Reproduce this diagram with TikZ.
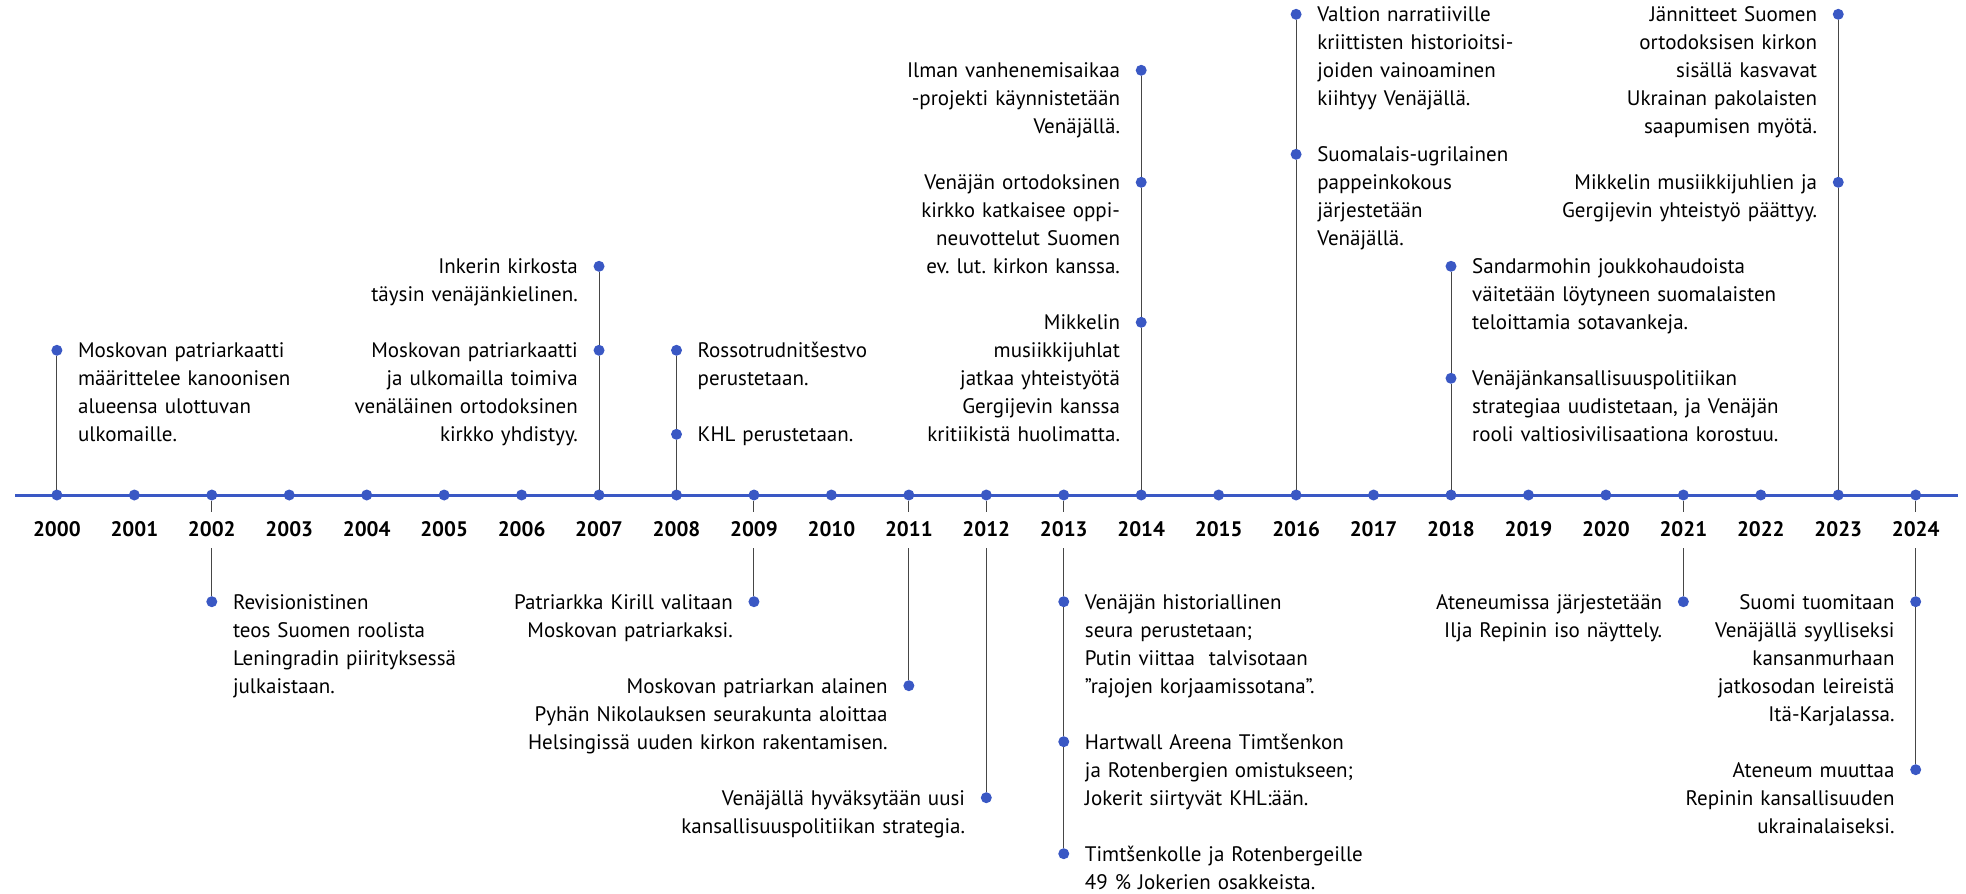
\documentclass[tikz,border=0pt]{standalone}
\usepackage{fontspec}
\setmainfont{PT Sans}
\usetikzlibrary{positioning}
\frenchspacing
\definecolor{tlblue}{RGB}{58,88,196}
\definecolor{stemgray}{RGB}{70,70,70}
\newcommand{\evfont}{\fontsize{21}{28}\selectfont}
\newcommand{\yrfont}{\fontsize{21}{21}\selectfont\bfseries}
\tikzset{%
   tdot/.style={
      circle,
      inner sep=0mm,
      outer sep=0mm,
      minimum size=11pt,
      fill=tlblue
   },
   yr/.style={
      font=\yrfont,
      fill=white,
      inner sep=0pt,
      minimum height=36pt
   },
   evl/.style={
      anchor=base west,
      text width=420pt,
      align=left,
      font=\evfont,
      inner sep=0pt,
      xshift=21pt,
      yshift=-7.3pt
   },
   evr/.style={
      anchor=base east,
      text width=420pt,
      align=right,
      font=\evfont,
      inner sep=0pt,
      xshift=-21pt,
      yshift=-7.3pt
   },
   stem/.style={
      draw=stemgray,
      line width=1pt
   },
}

\begin{document}
\begin{tikzpicture}[x=1pt, y=-1pt]
         \useasboundingbox (0,0) rectangle (1966,894);
         \coordinate (axl) at (15,495);
         \coordinate (axr) at (1958,495);
         \draw[tlblue, line width=3pt] (axl) -- (axr);
         \foreach \i in {0,...,24}
            \node[tdot] (y\i) at ({56.9+77.45*\i},495) {};
         % above the axis
         \node[tdot] (e00) at (y0 |- 0,350.3) {};
         \node[evl] (t00) at (e00) {Moskovan patriarkaatti\\määrittelee kanoonisen\\alueensa ulottuvan\\ulkomaille.};
         \node[tdot] (e07a) at (y7 |- 0,266.3) {};
         \node[evr] (t07a) at (e07a) {Inkerin kirkosta\\täysin venäjänkielinen.};
         \node[tdot] (e07b) at (y7 |- 0,350.3) {};
         \node[evr] (t07b) at (e07b) {Moskovan patriarkaatti\\ja ulkomailla toimiva\\venäläinen ortodoksinen\\kirkko yhdistyy.};
         \node[tdot] (e08a) at (y8 |- 0,350.3) {};
         \node[evl] (t08a) at (e08a) {Rossotrudnitšestvo\\perustetaan.};
         \node[tdot] (e08b) at (y8 |- 0,434.3) {};
         \node[evl] (t08b) at (e08b) {KHL perustetaan.};
         \node[tdot] (e14a) at (y14 |- 0,70.3) {};
         \node[evr] (t14a) at (e14a) {Ilman vanhenemisaikaa\\-projekti käynnistetään\\Venäjällä.};
         \node[tdot] (e14b) at (y14 |- 0,182.3) {};
         \node[evr] (t14b) at (e14b) {Venäjän ortodoksinen\\kirkko katkaisee oppi-\\neuvottelut Suomen\\ev. lut. kirkon kanssa.};
         \node[tdot] (e14c) at (y14 |- 0,322.3) {};
         \node[evr] (t14c) at (e14c) {Mikkelin\\musiikkijuhlat\\jatkaa yhteistyötä\\Gergijevin kanssa\\kritiikistä huolimatta.};
         \node[tdot] (e16a) at (y16 |- 0,14.3) {};
         \node[evl] (t16a) at (e16a) {Valtion narratiiville\\kriittisten historioitsi-\\joiden vainoaminen\\kiihtyy Venäjällä.};
         \node[tdot] (e16b) at (y16 |- 0,154.3) {};
         \node[evl] (t16b) at (e16b) {Suomalais-ugrilainen\\pappeinkokous\\järjestetään\\Venäjällä.};
         \node[tdot] (e18a) at (y18 |- 0,266.3) {};
         \node[evl] (t18a) at (e18a) {Sandarmohin joukkohaudoista\\väitetään löytyneen suomalaisten\\teloittamia sotavankeja.};
         \node[tdot] (e18b) at (y18 |- 0,378.3) {};
         \node[evl] (t18b) at (e18b) {Venäjänkansallisuuspolitiikan\\strategiaa uudistetaan, ja Venäjän\\rooli valtiosivilisaationa korostuu.};
         \node[tdot] (e23a) at (y23 |- 0,14.3) {};
         \node[evr] (t23a) at (e23a) {Jännitteet Suomen\\ortodoksisen kirkon\\sisällä kasvavat\\Ukrainan pakolaisten\\saapumisen myötä.};
         \node[tdot] (e23b) at (y23 |- 0,182.3) {};
         \node[evr] (t23b) at (e23b) {Mikkelin musiikkijuhlien ja\\Gergijevin yhteistyö päättyy.};
         % below the axis
         \node[tdot] (e02) at (y2 |- 0,601.7) {};
         \node[evl] (t02) at (e02) {Revisionistinen\\teos Suomen roolista\\Leningradin piirityksessä\\julkaistaan.};
         \node[tdot] (e09) at (y9 |- 0,601.7) {};
         \node[evr] (t09) at (e09) {Patriarkka Kirill valitaan\\Moskovan patriarkaksi.};
         \node[tdot] (e11) at (y11 |- 0,685.7) {};
         \node[evr] (t11) at (e11) {Moskovan patriarkan alainen\\Pyhän Nikolauksen seurakunta aloittaa\\Helsingissä uuden kirkon rakentamisen.};
         \node[tdot] (e12) at (y12 |- 0,797.7) {};
         \node[evr] (t12) at (e12) {Venäjällä hyväksytään uusi\\kansallisuuspolitiikan strategia.};
         \node[tdot] (e13a) at (y13 |- 0,601.7) {};
         \node[evl] (t13a) at (e13a) {Venäjän historiallinen\\seura perustetaan;\\Putin viittaa\ \ talvisotaan\\”rajojen korjaamissotana”.};
         \node[tdot] (e13b) at (y13 |- 0,741.7) {};
         \node[evl] (t13b) at (e13b) {Hartwall Areena Timtšenkon\\ja Rotenbergien omistukseen;\\Jokerit siirtyvät KHL:ään.};
         \node[tdot] (e13c) at (y13 |- 0,853.7) {};
         \node[evl] (t13c) at (e13c) {Timtšenkolle ja Rotenbergeille\\49 \% Jokerien osakkeista.};
         \node[tdot] (e21) at (y21 |- 0,601.7) {};
         \node[evr] (t21) at (e21) {Ateneumissa järjestetään\\Ilja Repinin iso näyttely.};
         \node[tdot] (e24a) at (y24 |- 0,601.7) {};
         \node[evr] (t24a) at (e24a) {Suomi tuomitaan\\Venäjällä syylliseksi\\kansanmurhaan\\jatkosodan leireistä\\Itä-Karjalassa.};
         \node[tdot] (e24b) at (y24 |- 0,769.7) {};
         \node[evr] (t24b) at (e24b) {Ateneum muuttaa\\Repinin kansallisuuden\\ukrainalaiseksi.};
         % stems
         \draw[stem] (y0) -- (e00);
         \draw[stem] (y7) -- (e07b) -- (e07a);
         \draw[stem] (y8) -- (e08b) -- (e08a);
         \draw[stem] (y14) -- (e14c) -- (e14b) -- (e14a);
         \draw[stem] (y16) -- (e16b) -- (e16a);
         \draw[stem] (y18) -- (e18b) -- (e18a);
         \draw[stem] (y23) -- (e23b) -- (e23a);
         \draw[stem] (y2) -- (e02);
         \draw[stem] (y9) -- (e09);
         \draw[stem] (y11) -- (e11);
         \draw[stem] (y12) -- (e12);
         \draw[stem] (y13) -- (e13a) -- (e13b) -- (e13c);
         \draw[stem] (y21) -- (e21);
         \draw[stem] (y24) -- (e24a) -- (e24b);
         % year labels
         \foreach \i in {0,...,24} {
            \pgfmathtruncatemacro{\yy}{2000+\i}
            \node[yr] (l\i) at (y\i |- 0,529.5) {\yy};
         }
      \end{tikzpicture}
\end{document}
